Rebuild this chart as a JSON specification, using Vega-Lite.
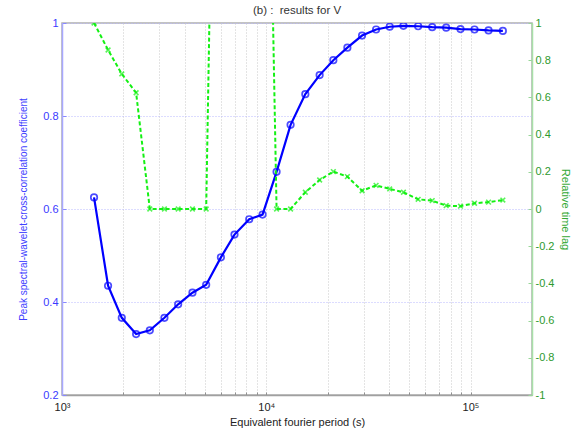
{
  "$schema": "https://vega.github.io/schema/vega-lite/v6.json",
  "width": 470,
  "height": 372,
  "autosize": "none",
  "padding": {"left": 62, "top": 23, "right": 46, "bottom": 38},
  "background": "white",
  "config": {
    "font": "Liberation Sans",
    "view": {"stroke": "#b0b0b0", "strokeWidth": 1.5}
  },
  "title": {"text": "(b) :\u00a0 results for V", "fontSize": 11.5, "fontWeight": "normal", "color": "#333333", "anchor": "middle", "offset": 1, "font": "Liberation Sans"},
  "data": {"values": [
    {"period": 1435, "coef": 0.625, "lag": 1.0},
    {"period": 1681, "coef": 0.435, "lag": 0.855},
    {"period": 1962, "coef": 0.366, "lag": 0.726},
    {"period": 2306, "coef": 0.331, "lag": 0.625},
    {"period": 2691, "coef": 0.339, "lag": 0.0},
    {"period": 3173, "coef": 0.366, "lag": 0.0},
    {"period": 3704, "coef": 0.395, "lag": 0.0},
    {"period": 4352, "coef": 0.42, "lag": 0.0},
    {"period": 5080, "coef": 0.437, "lag": 0.0},
    {"period": 5997, "coef": 0.496, "lag": 4.6},
    {"period": 6991, "coef": 0.545, "lag": 5.0},
    {"period": 8254, "coef": 0.578, "lag": 4.5},
    {"period": 9592, "coef": 0.588, "lag": 4.0},
    {"period": 11233, "coef": 0.68, "lag": 0.0},
    {"period": 13156, "coef": 0.781, "lag": 0.0},
    {"period": 15533, "coef": 0.847, "lag": 0.09},
    {"period": 18254, "coef": 0.888, "lag": 0.156},
    {"period": 21301, "coef": 0.92, "lag": 0.201},
    {"period": 24953, "coef": 0.947, "lag": 0.174},
    {"period": 29447, "coef": 0.973, "lag": 0.098},
    {"period": 34494, "coef": 0.986, "lag": 0.127},
    {"period": 40216, "coef": 0.992, "lag": 0.108},
    {"period": 46950, "coef": 0.994, "lag": 0.09},
    {"period": 55411, "coef": 0.993, "lag": 0.052},
    {"period": 64924, "coef": 0.991, "lag": 0.045},
    {"period": 76024, "coef": 0.99, "lag": 0.018},
    {"period": 89330, "coef": 0.987, "lag": 0.015},
    {"period": 104620, "coef": 0.986, "lag": 0.031},
    {"period": 122530, "coef": 0.984, "lag": 0.037},
    {"period": 143990, "coef": 0.983, "lag": 0.048}
  ]},
  "layer": [
    {
      "encoding": {
        "x": {"field": "period", "type": "quantitative",
          "scale": {"type": "log", "domain": [1000, 200000], "nice": false},
          "axis": {
            "values": [1000, 2000, 3000, 4000, 5000, 6000, 7000, 8000, 9000, 10000, 20000, 30000, 40000, 50000, 60000, 70000, 80000, 90000, 100000, 200000],
            "labelExpr": "datum.value == 1000 ? '10³' : datum.value == 10000 ? '10⁴' : datum.value == 100000 ? '10⁵' : ''",
            "labelOverlap": false,
            "title": "Equivalent fourier period (s)",
            "titleFont": "Liberation Sans", "titleFontSize": 11, "titleFontWeight": "normal", "titleColor": "#222222", "titlePadding": 4,
            "labelFont": "Liberation Sans", "labelFontSize": 11, "labelColor": "#222222", "labelPadding": 9, "labelFlush": false,
            "domainColor": "#a0a0a0", "domainWidth": 1.5,
            "tickColor": "#909090", "tickSize": -3,
            "grid": true, "gridColor": "#c8c8c8", "gridDash": [1, 2], "gridWidth": 1
          }
        },
        "y": {"field": "coef", "type": "quantitative",
          "scale": {"domain": [0.2, 1], "nice": false, "zero": false},
          "axis": {
            "orient": "left",
            "values": [0.2, 0.4, 0.6, 0.8, 1],
            "labelExpr": "format(datum.value, '~g')",
            "labelOverlap": false,
            "title": "Peak spectral-wavelet-cross-correlation coefficient",
            "titleFont": "Liberation Sans", "titleFontSize": 10, "titleFontWeight": "normal", "titleColor": "#4040ff", "titlePadding": 14,
            "labelFont": "Liberation Sans", "labelFontSize": 11, "labelColor": "#3a3aff", "labelPadding": 8,
            "domainColor": "#a8a8ff", "domainWidth": 1.5,
            "tickColor": "#8888ff", "tickSize": -4,
            "grid": true, "gridColor": "#b8b8ff", "gridDash": [1, 2], "gridWidth": 1
          }
        }
      },
      "layer": [
        {"mark": {"type": "line", "color": "#0000ff", "strokeWidth": 2.2, "clip": true}},
        {"mark": {"type": "point", "shape": "circle", "filled": false, "color": "#0000ff", "strokeWidth": 1.7, "size": 42, "clip": true}}
      ]
    },
    {
      "encoding": {
        "x": {"field": "period", "type": "quantitative"},
        "y": {"field": "lag", "type": "quantitative",
          "scale": {"domain": [-1, 1], "nice": false, "zero": false},
          "axis": {
            "orient": "right",
            "values": [-1, -0.8, -0.6, -0.4, -0.2, 0, 0.2, 0.4, 0.6, 0.8, 1],
            "labelExpr": "datum.value < 0 ? '-' + format(-datum.value, '~g') : format(datum.value, '~g')",
            "labelOverlap": false,
            "title": "Relative time lag",
            "titleFont": "Liberation Sans", "titleFontSize": 11, "titleFontWeight": "normal", "titleColor": "#33a833", "titlePadding": 6,
            "labelFont": "Liberation Sans", "labelFontSize": 11, "labelColor": "#2e9a2e", "labelPadding": 7,
            "domainColor": "#a8e0a8", "domainWidth": 1.5,
            "tickColor": "#99d699", "tickSize": -4,
            "grid": false
          }
        }
      },
      "layer": [
        {"mark": {"type": "line", "color": "#14f014", "strokeWidth": 2, "strokeDash": [4, 2.5], "clip": true}},
        {"mark": {"type": "point", "shape": "M-1,-1L1,1M1,-1L-1,1", "filled": false, "color": "#14f014", "strokeWidth": 1.6, "size": 22, "clip": true}}
      ]
    }
  ],
  "resolve": {"scale": {"y": "independent"}, "axis": {"y": "independent"}}
}
